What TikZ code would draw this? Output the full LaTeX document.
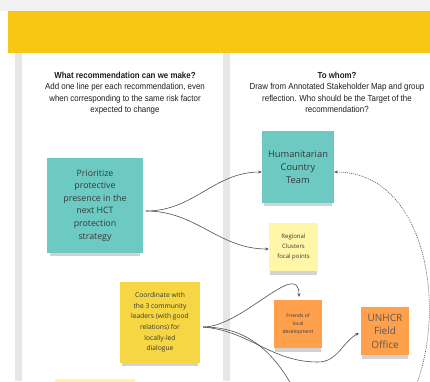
\documentclass[tikz,border=0pt]{standalone}
\usepackage{fontspec}
\setmainfont{Open Sans}
\newfontfamily\headfont[FakeStretch=0.9]{Liberation Sans}
\usetikzlibrary{shadows,arrows.meta}

\definecolor{bannerYellow}{RGB}{248,198,20}
\definecolor{stripGray}{RGB}{230,230,230}
\definecolor{topGray}{RGB}{242,242,242}
\definecolor{noteTeal}{RGB}{108,202,195}
\definecolor{noteYellow}{RGB}{246,214,66}
\definecolor{notePale}{RGB}{255,246,168}
\definecolor{noteOrange}{RGB}{255,160,76}
\definecolor{linkGray}{RGB}{80,80,80}

\begin{document}
\begin{tikzpicture}[x=1pt, y=-1pt,
    note/.style={rectangle, inner sep=0pt, align=center, text=black!78,
        drop shadow={shadow xshift=0pt, shadow yshift=-6pt, shadow scale=0.94, opacity=0.35}},
    heading/.style={align=center, anchor=north, text=black!88,
        font=\headfont\fontsize{8.8}{11.3}\selectfont},
    link/.style={draw=linkGray, line width=0.6pt, -{Stealth[length=3.5pt,width=3pt]}}]
    \clip (0,0) rectangle (430,381);
    \useasboundingbox (0,0) rectangle (430,381);
    % board background
    \fill[white] (0,0) rectangle (430,381);
    \fill[topGray] (0,0) rectangle (430,11);
    \fill[bannerYellow] (8,11) rectangle (430,53);
    \fill[stripGray] (15,53) rectangle (22,381);
    \fill[stripGray] (223,53) rectangle (230,381);
    \fill[notePale] (55,379) rectangle (135,390);

    % column headings
    \node[heading] (askWhat) at (125,68.5) {\bfseries What recommendation can we make?\\
        Add one line per each recommendation, even\\
        when corresponding to the same risk factor\\
        expected to change};
    \node[heading] (askWho) at (337,68.5) {\bfseries To whom?\\
        Draw from Annotated Stakeholder Map and group\\
        reflection. Who should be the Target of the\\
        recommendation?};

    % sticky notes
    \node[note, fill=noteTeal, minimum width=96pt, minimum height=95pt,
        font=\fontsize{8.8}{12.6}\selectfont] (prio) at (95,205.5)
        {Prioritize\\protective\\presence in the\\next HCT\\protection\\strategy};
    \node[note, fill=noteTeal, minimum width=72pt, minimum height=72pt,
        font=\fontsize{9.3}{12.7}\selectfont] (hct) at (298,167)
        {Humanitarian\\Country\\Team};
    \node[note, fill=notePale, minimum width=49pt, minimum height=48pt,
        font=\fontsize{6}{10}\selectfont] (cluster) at (293.5,247)
        {Regional\\Clusters\\focal points};
    \node[note, fill=noteYellow, minimum width=80pt, minimum height=81pt,
        font=\fontsize{6.7}{10.6}\selectfont] (coord) at (160,322.5)
        {Coordinate with\\the 3 community\\leaders (with good\\relations) for\\locally-led\\dialogue};
    \node[note, fill=noteOrange, minimum width=48pt, minimum height=48pt,
        font=\fontsize{5}{8}\selectfont] (friends) at (298,324)
        {Friends of\\local\\development};
    \node[note, fill=noteOrange, minimum width=48pt, minimum height=48pt,
        font=\fontsize{10}{13.5}\selectfont, text=black!65] (unhcr) at (385,331)
        {UNHCR\\Field\\Office};

    % free ends
    \coordinate (dip) at (318,362);
    \coordinate (offBottom) at (291,384);
    \coordinate (dashTail) at (417,383);

    % connectors
    \draw[link] ([shift={(3,5.5)}]prio.east) to[out=0,in=180] ([yshift=-5pt]hct.west);
    \draw[link] ([shift={(3,5.5)}]prio.east) to[out=0,in=180] ([yshift=-2pt]cluster.west);
    \draw[link] ([shift={(3,4.5)}]coord.east) to[out=0,in=90] ([shift={(1,-3)}]friends.north);
    \draw[link] ([shift={(3,4.5)}]coord.east) to[out=-5,in=180] (dip)
        to[out=0,in=-150] ([shift={(-2,2)}]unhcr.west);
    \draw[draw=linkGray, line width=0.6pt] ([shift={(3,4.5)}]coord.east) to[out=0,in=120] (offBottom);
    \draw[link, dash pattern=on 1pt off 1pt] (dashTail) to[out=70,in=0] ([yshift=-5pt]hct.east);
\end{tikzpicture}
\end{document}
